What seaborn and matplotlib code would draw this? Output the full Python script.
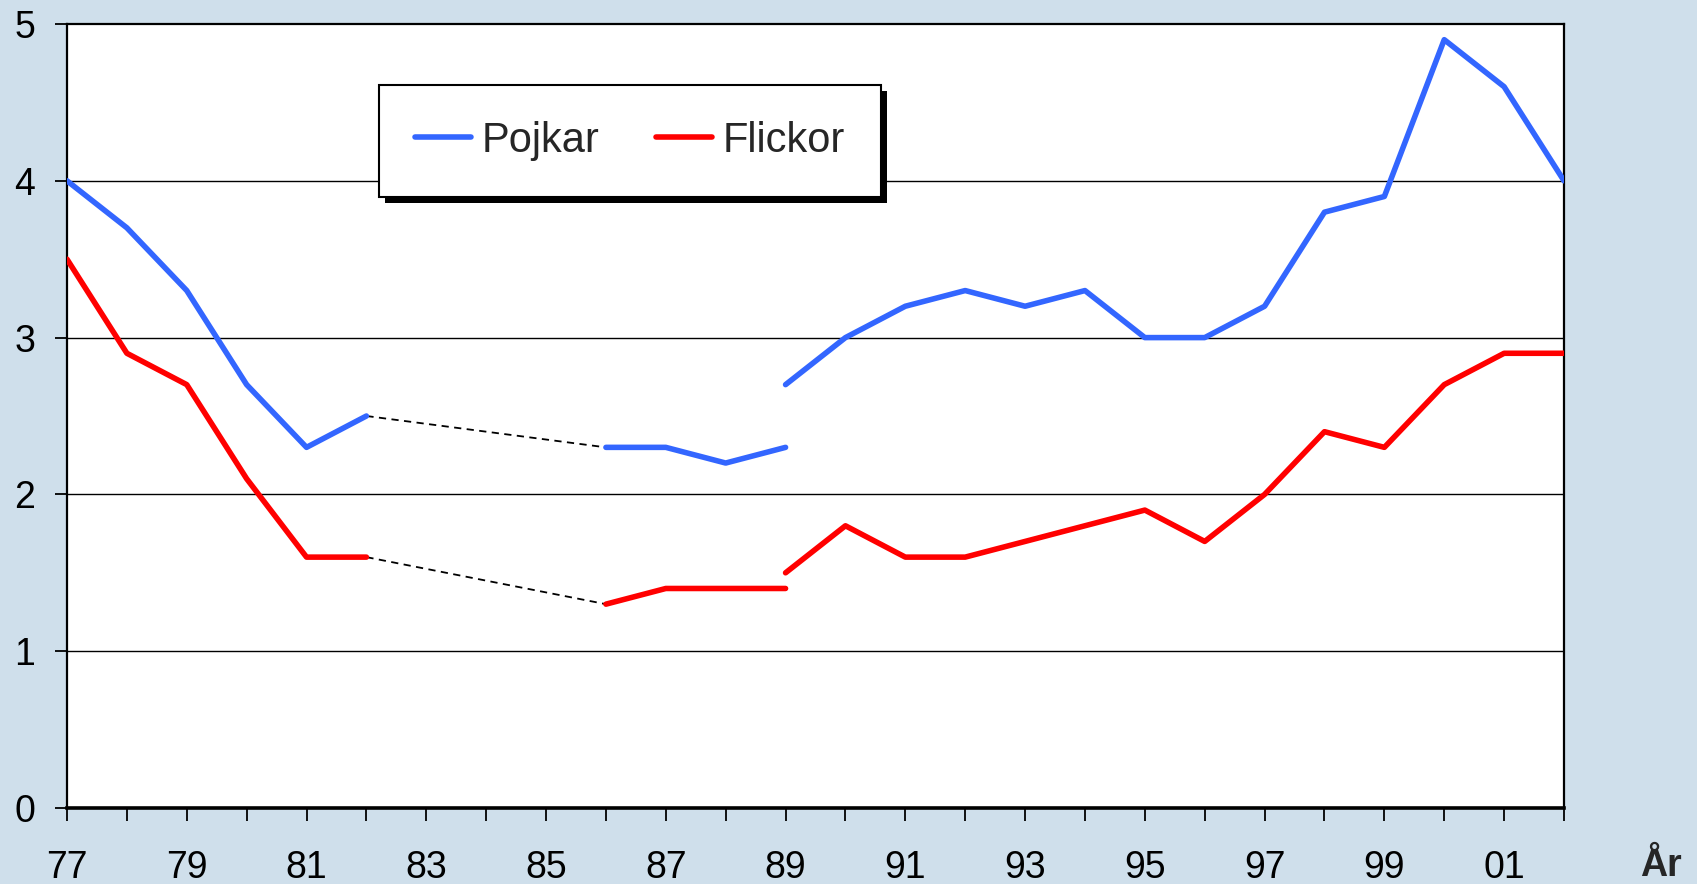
import pandas as pd
import seaborn as sns
import matplotlib.pyplot as plt
from matplotlib.lines import Line2D
from matplotlib.patches import Rectangle

# Values, three segments per series
years_a = [1977, 1978, 1979, 1980, 1981, 1982]
years_b = [1986, 1987, 1988, 1989]
years_c = [1989, 1990, 1991, 1992, 1993, 1994, 1995, 1996, 1997, 1998, 1999, 2000, 2001, 2002]

pojkar_a = [4.0, 3.7, 3.3, 2.7, 2.3, 2.5]
pojkar_b = [2.3, 2.3, 2.2, 2.3]
pojkar_c = [2.7, 3.0, 3.2, 3.3, 3.2, 3.3, 3.0, 3.0, 3.2, 3.8, 3.9, 4.9, 4.6, 4.0]

flickor_a = [3.5, 2.9, 2.7, 2.1, 1.6, 1.6]
flickor_b = [1.3, 1.4, 1.4, 1.4]
flickor_c = [1.5, 1.8, 1.6, 1.6, 1.7, 1.8, 1.9, 1.7, 2.0, 2.4, 2.3, 2.7, 2.9, 2.9]

series_names = ['Pojkar', 'Flickor']
colors = {'Pojkar': '#3366ff', 'Flickor': '#ff0000'}
x_labels = ['77', '79', '81', '83', '85', '87', '89', '91', '93', '95', '97', '99', '01']

rows = []
for name, segs in [('Pojkar', [pojkar_a, pojkar_b, pojkar_c]),
                   ('Flickor', [flickor_a, flickor_b, flickor_c])]:
    for seg_id, (yrs, vals) in enumerate(zip([years_a, years_b, years_c], segs)):
        for yr, v in zip(yrs, vals):
            rows.append({'Year': yr, 'Value': v, 'Series': name, 'Segment': seg_id})
df = pd.DataFrame(rows)

sns.set_style('white')
plt.rcParams['font.family'] = ['Liberation Sans', 'DejaVu Sans']

bg = '#cfdfeb'
fig = plt.figure(figsize=(16.97, 8.84), dpi=100, facecolor=bg)
ax = fig.add_subplot(111)
fig.subplots_adjust(left=67 / 1697, right=1564 / 1697, top=1 - 24 / 884, bottom=1 - 808 / 884)
ax.set_facecolor('white')

sns.lineplot(data=df, x='Year', y='Value', hue='Series', units='Segment', estimator=None,
             palette=colors, linewidth=4.0, legend=False, ax=ax, zorder=3)
for line in ax.lines:
    line.set_solid_capstyle('round')
    line.set_solid_joinstyle('round')

# dashed links over the gap 82-86
for a, b in [(pojkar_a, pojkar_b), (flickor_a, flickor_b)]:
    ax.plot([years_a[-1], years_b[0]], [a[-1], b[0]], color='black', linestyle=(0, (4, 3)),
            linewidth=1.3, zorder=2)

ax.set_xlim(1977, 2002)
ax.set_ylim(0, 5)
ax.set_xticks(range(1977, 2003))
ax.set_xticklabels([x_labels[(y - 1977) // 2] if (y - 1977) % 2 == 0 else '' for y in range(1977, 2003)])
ax.set_yticks([0, 1, 2, 3, 4, 5])
ax.set_xlabel('')
ax.set_ylabel('')

for y in [1, 2, 3, 4]:
    ax.axhline(y, color='black', linewidth=1.0, zorder=1)

for side in ['left', 'right', 'top']:
    ax.spines[side].set_color('black')
    ax.spines[side].set_linewidth(1.6)
ax.spines['bottom'].set_color('black')
ax.spines['bottom'].set_linewidth(2.6)

ax.tick_params(axis='x', direction='out', length=9, width=1.3, pad=21, labelsize=27, colors='black')
ax.tick_params(axis='y', direction='out', length=9, width=1.3, pad=14, labelsize=27, colors='black')
ax.tick_params(bottom=True, left=True)

fig.text(1661 / 1697, 1 - 866 / 884, 'År', ha='center', va='center', fontsize=27, fontweight='bold')

handles = [Line2D([0], [0], color=colors[n], linewidth=4.0, solid_capstyle='round') for n in series_names]
leg = ax.legend(handles, series_names, loc='upper left', bbox_to_anchor=((379 - 67) / 1497, (808 - 85) / 784),
                borderaxespad=0, ncol=2, fontsize=30, frameon=True, fancybox=False,
                edgecolor='black', framealpha=1, borderpad=0.86, handlelength=1.35,
                handletextpad=0.25, columnspacing=1.35)
leg.get_frame().set_linewidth(1.5)
leg.set_zorder(6)

# solid black drop shadow behind legend
fig.canvas.draw()
bb = leg.get_window_extent().transformed(ax.transAxes.inverted())
ax_w = ax.get_window_extent().width
ax_h = ax.get_window_extent().height
dx, dy = 6 / ax_w, 6 / ax_h
ax.add_patch(Rectangle((bb.x0 + dx, bb.y0 - dy), bb.width, bb.height, transform=ax.transAxes,
                       facecolor='black', edgecolor='none', zorder=5.5, clip_on=False))

plt.savefig('out.png', dpi=100, facecolor=bg)
